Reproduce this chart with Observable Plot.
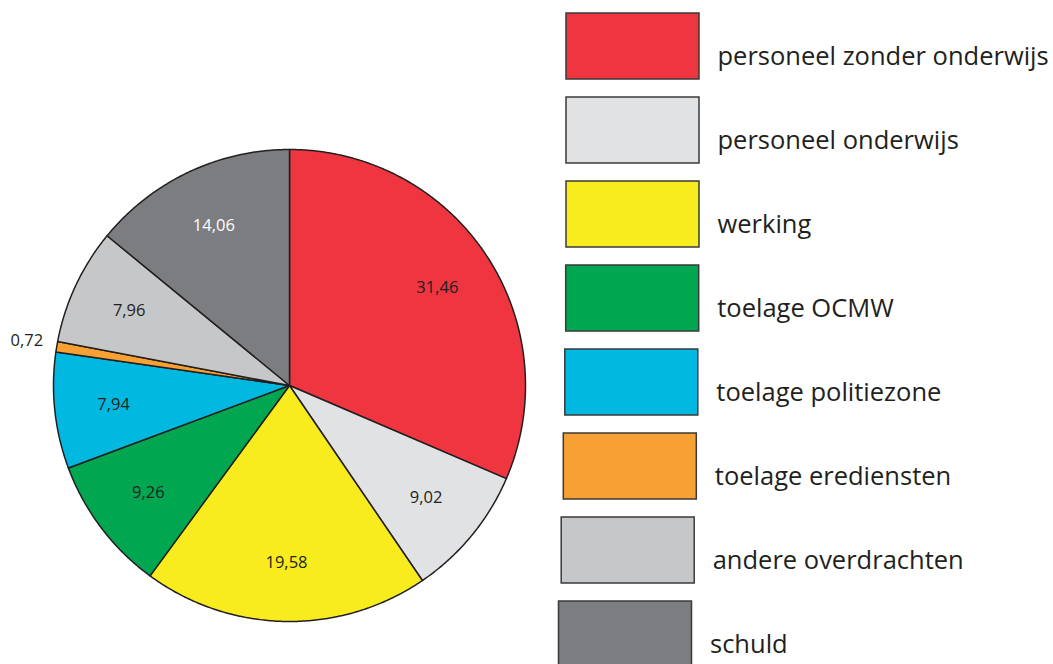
<!DOCTYPE html>
<html>
<head>
<meta charset="utf-8">
<script src="https://cdn.jsdelivr.net/npm/d3@7"></script>
<script src="https://cdn.jsdelivr.net/npm/@observablehq/plot@0.6"></script>
<style>
  html, body { margin: 0; padding: 0; background: #fff; }
  #chart svg { display: block; }
</style>
</head>
<body>
<div id="chart"></div>
<script>
// ---- data ----
const categories = [
  "personeel zonder onderwijs",
  "personeel onderwijs",
  "werking",
  "toelage OCMW",
  "toelage politiezone",
  "toelage erediensten",
  "andere overdrachten",
  "schuld"
];
const values = [31.46, 9.02, 19.58, 9.26, 7.94, 0.72, 7.96, 14.06];
const colors = ["#ee3540", "#e1e2e4", "#f8ec1e", "#00a650", "#00b8e0", "#f7a033", "#c6c7c9", "#7c7d81"];
const labelColors = ["#231f20", "#231f20", "#231f20", "#231f20", "#231f20", "#231f20", "#231f20", "#ffffff"];

// ---- layout ----
const W = 1053, H = 664;
const cx = 289, cy = 385, R = 236;
const legendX = 566, legendTop = 13, legendStep = 84, boxW = 133, boxH = 66;

const total = d3.sum(values);
const fmt = v => v.toFixed(2).replace(".", ",");

// slices
let acc = 0;
const slices = values.map((v, i) => {
  const a0 = acc / total * 2 * Math.PI;
  acc += v;
  const a1 = acc / total * 2 * Math.PI;
  return {i, cat: categories[i], v, a0, a1, color: colors[i]};
});

const piePts = [];
for (const s of slices) {
  piePts.push({cat: s.cat, color: s.color, x: cx, y: cy});
  const n = Math.max(2, Math.ceil((s.a1 - s.a0) / (Math.PI / 360)));
  for (let k = 0; k <= n; k++) {
    const a = s.a0 + (s.a1 - s.a0) * k / n;
    piePts.push({cat: s.cat, color: s.color, x: cx + R * Math.sin(a), y: cy - R * Math.cos(a)});
  }
  piePts.push({cat: s.cat, color: s.color, x: cx, y: cy});
}

const labelPts = slices.map(s => {
  const am = (s.a0 + s.a1) / 2;
  const outside = s.v < 2;
  const r = outside ? R + 36 : R * 0.75;
  return {
    text: fmt(s.v),
    x: cx + r * Math.sin(am),
    y: cy - r * Math.cos(am),
    fill: labelColors[s.i],
    outside
  };
});

// legend boxes drift slightly leftwards going down, as in the original artwork
const legend = categories.map((c, i) => {
  const shift = i < 3 ? 0 : (i - 2) * (i - 2) * 0.3;
  return {
    cat: c, color: colors[i],
    x1: legendX - shift, x2: legendX - shift + boxW,
    y1: legendTop + i * legendStep, y2: legendTop + i * legendStep + boxH
  };
});

const chart = Plot.plot({
  width: W, height: H,
  margin: 0,
  x: {domain: [0, W], range: [0, W], axis: null},
  y: {domain: [0, H], range: [0, H], axis: null},
  color: {type: "identity"},
  style: {fontFamily: "'Open Sans', sans-serif", background: "#fff"},
  marks: [
    Plot.line(piePts, {x: "x", y: "y", z: "cat", fill: "color", stroke: "#231f20", strokeWidth: 1.5, strokeLinejoin: "round"}),
    Plot.text(labelPts.filter(d => !d.outside), {x: "x", y: "y", text: "text", fill: "fill", fontSize: 16.5}),
    Plot.text(labelPts.filter(d => d.outside), {x: "x", y: "y", text: "text", fill: "fill", fontSize: 16.5, textAnchor: "end", dx: 22}),
    Plot.rect(legend, {x1: "x1", x2: "x2", y1: "y1", y2: "y2", fill: "color", stroke: "#3a3a3a", strokeWidth: 1.5}),
    Plot.text(legend, {x: d => d.x2 + 18, y: d => d.y1 + 43, text: "cat", textAnchor: "start", fontSize: 25.5, fill: "#231f20"})
  ]
});
document.getElementById("chart").appendChild(chart);
</script>
</body>
</html>
